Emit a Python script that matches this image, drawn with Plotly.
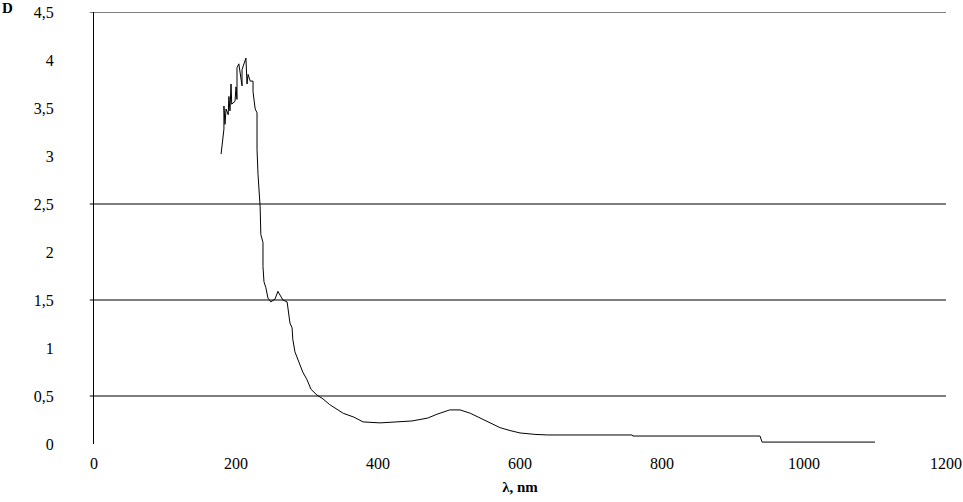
import plotly.graph_objects as go

# Wavelength (nm) and optical density D
wavelength = [179, 183, 183, 184.5, 186, 189, 190, 191.5, 193, 194, 198.6, 200, 201.4, 201.4,
              204, 208.5, 208.5, 214, 215.5, 217, 220, 224, 224, 227, 229.6, 229.6, 231, 234,
              235, 238, 238, 239.4, 242, 245, 249, 255, 259, 266, 272, 274.6, 276, 279, 280,
              283, 287, 294, 300, 305.6, 314, 322.5, 332, 342, 351, 366, 379, 403, 424, 448,
              470, 483, 501, 515.5, 530, 544, 555, 572, 586, 600, 621, 639, 758, 759, 938,
              941, 1100]
absorbance = [3.02, 3.28, 3.52, 3.33, 3.49, 3.43, 3.62, 3.47, 3.75, 3.54, 3.57, 3.72, 3.59, 3.92,
              3.96, 3.73, 3.90, 4.02, 3.75, 3.85, 3.78, 3.78, 3.67, 3.49, 3.45, 3.07, 2.81, 2.47,
              2.18, 2.10, 1.85, 1.69, 1.63, 1.52, 1.48, 1.51, 1.59, 1.50, 1.48, 1.35, 1.26, 1.21, 1.09,
              0.96, 0.88, 0.75, 0.67, 0.57, 0.51, 0.47, 0.41, 0.365, 0.32, 0.28, 0.23, 0.22, 0.23, 0.24,
              0.27, 0.31, 0.355, 0.355, 0.32, 0.27, 0.23, 0.17, 0.14, 0.115, 0.10, 0.094, 0.094, 0.083, 0.083,
              0.02, 0.02]

x_ticks = [0, 200, 400, 600, 800, 1000, 1200]
y_ticks = [0, 0.5, 1, 1.5, 2, 2.5, 3, 3.5, 4, 4.5]
y_ticktext = ["0", "0,5", "1", "1,5", "2", "2,5", "3", "3,5", "4", "4,5"]
grid_levels = [0.5, 1.5, 2.5, 4.5]

font = "Liberation Serif, Times New Roman, serif"
tickfont = dict(family=font, size=16, color="black")

fig = go.Figure()
fig.add_trace(go.Scatter(x=wavelength, y=absorbance, mode="lines",
                         line=dict(color="black", width=1), showlegend=False))

for g in grid_levels:
    fig.add_shape(type="line", xref="paper", yref="y", x0=-0.005, x1=1, y0=g, y1=g,
                  line=dict(color="black", width=1), layer="below")

fig.update_layout(
    width=963, height=502,
    margin=dict(l=94, r=17, t=12, b=58, autoexpand=False),
    plot_bgcolor="white", paper_bgcolor="white",
    font=dict(family=font, size=16, color="black"),
    xaxis=dict(range=[0, 1200], tickvals=x_ticks, ticktext=[str(v) for v in x_ticks],
               showgrid=False, zeroline=False, showline=False, ticks="",
               ticklabelstandoff=8, tickfont=tickfont, automargin=False,
               title=dict(text="<b>λ, nm</b>", standoff=10, font=dict(size=15, family=font))),
    yaxis=dict(range=[0, 4.5], tickvals=y_ticks, ticktext=y_ticktext,
               showgrid=False, zeroline=False, showline=True, linecolor="black", linewidth=1,
               ticks="", ticklabelstandoff=36, tickfont=tickfont, automargin=False),
)

fig.add_annotation(text="<b>D</b>", xref="paper", yref="paper", x=-94/852, y=1.0,
                   xanchor="left", yanchor="middle", showarrow=False,
                   font=dict(size=15, family=font, color="black"), yshift=4)

fig.write_html("out.html", config={"displayModeBar": False},
               post_script="document.body.style.margin='0';document.body.style.overflow='hidden';")
